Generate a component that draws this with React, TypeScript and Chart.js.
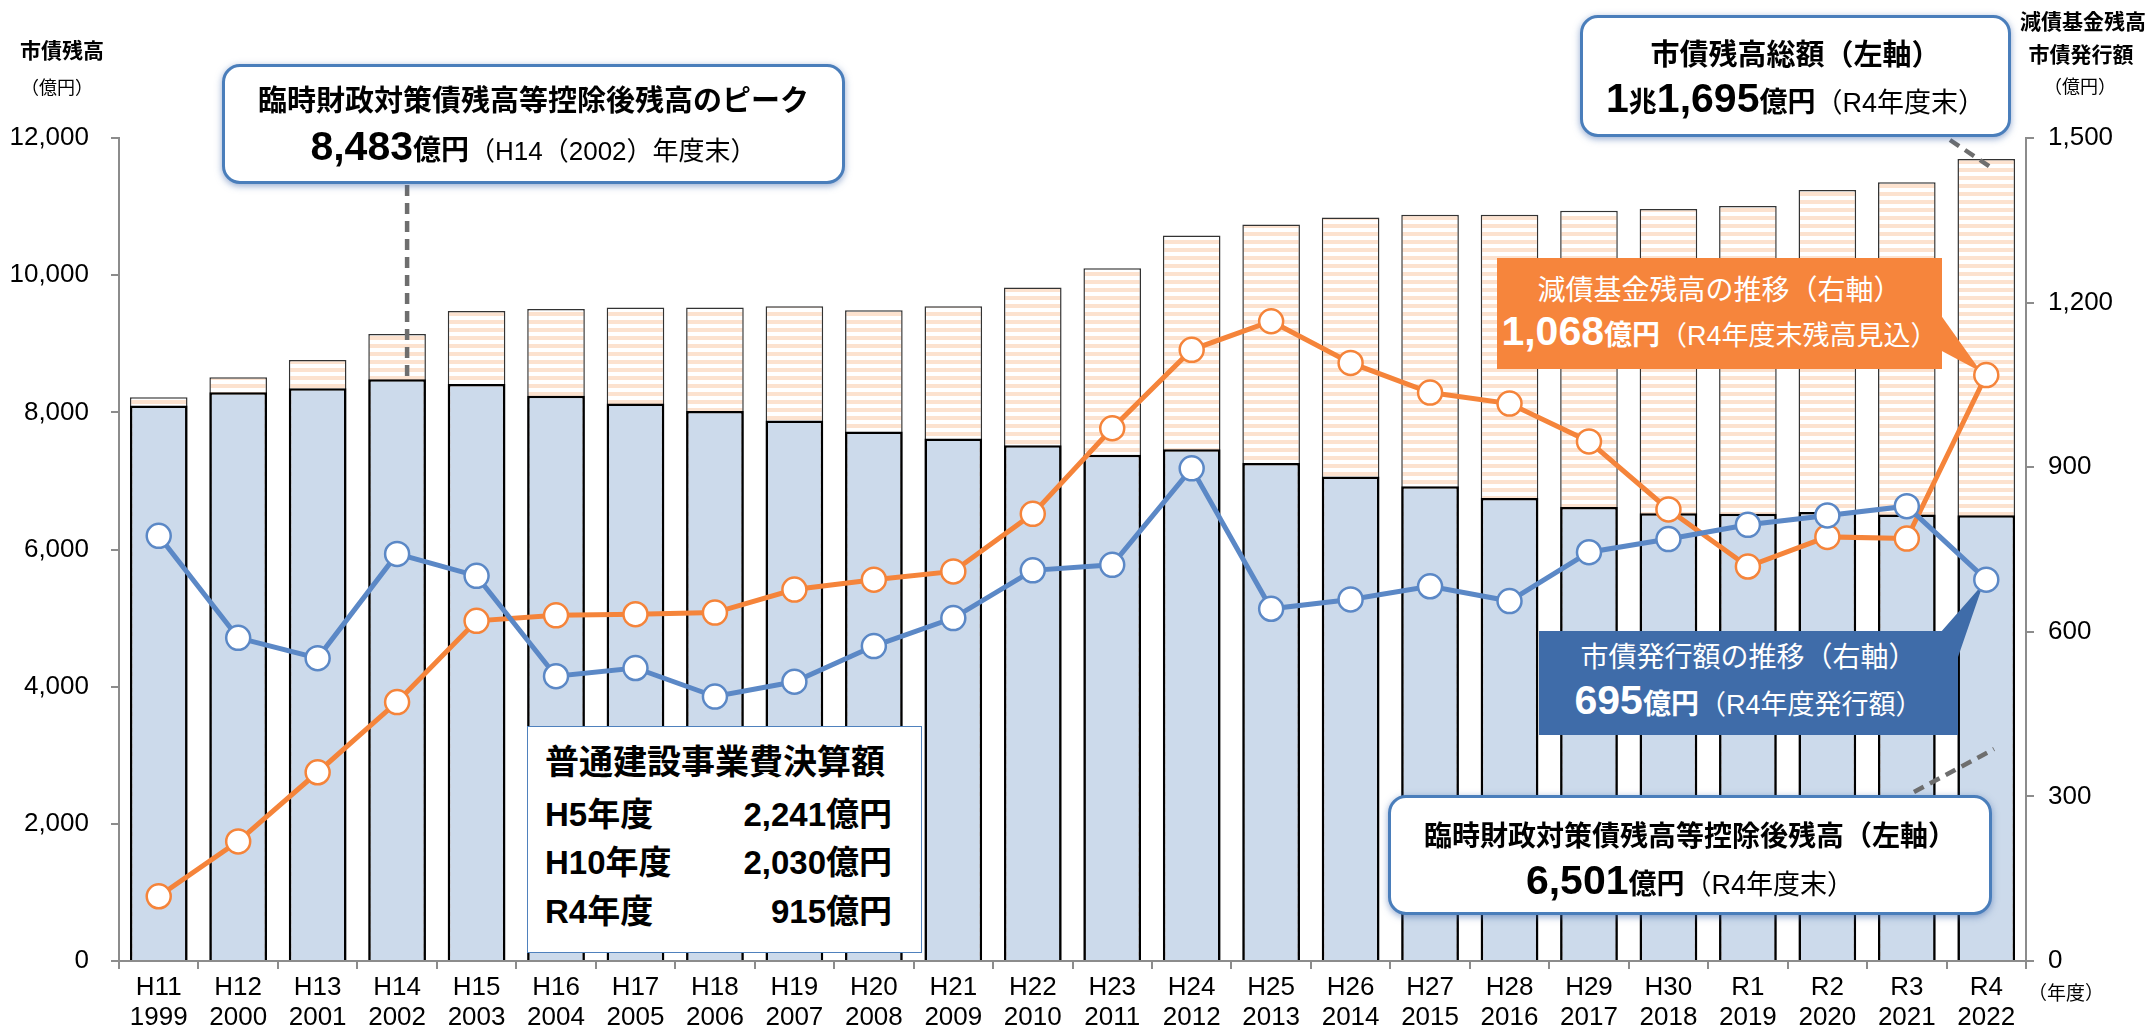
import React, { useEffect, useRef } from 'react';
import { Chart, registerables } from 'chart.js';
Chart.register(...registerables);

const categories: string[][] = [
  ['H11', '1999'], ['H12', '2000'], ['H13', '2001'], ['H14', '2002'], ['H15', '2003'], ['H16', '2004'],
  ['H17', '2005'], ['H18', '2006'], ['H19', '2007'], ['H20', '2008'], ['H21', '2009'], ['H22', '2010'],
  ['H23', '2011'], ['H24', '2012'], ['H25', '2013'], ['H26', '2014'], ['H27', '2015'], ['H28', '2016'],
  ['H29', '2017'], ['H30', '2018'], ['R1', '2019'], ['R2', '2020'], ['R3', '2021'], ['R4', '2022'],
];

// 市債残高総額（左軸）
const totalDebt = [
  8219, 8511, 8764, 9143, 9478, 9507, 9530, 9530, 9545, 9490, 9545, 9820,
  10100, 10580, 10740, 10840, 10880, 10880, 10940, 10965, 11010, 11242, 11353, 11695,
];
// 臨時財政対策債残高等控除後残高（左軸）
const adjustedDebt = [
  8098, 8292, 8350, 8483, 8414, 8243, 8128, 8020, 7880, 7720, 7620, 7520,
  7380, 7460, 7260, 7065, 6921, 6750, 6621, 6530, 6520, 6545, 6510, 6501,
];
// 減債基金残高（右軸）
const fundBalance = [
  118, 218, 344, 472, 620, 630, 632, 635, 677, 695, 710, 815,
  971, 1114, 1166, 1090, 1036, 1016, 947, 823, 719, 773, 770, 1068,
];
// 市債発行額（右軸）
const issuance = [
  775, 589, 552, 742, 702, 519, 534, 482, 509, 574, 625, 712,
  722, 898, 642, 659, 683, 656, 745, 769, 795, 812, 829, 695,
];

const leftAxisMax = 12000;
const leftAxisStep = 2000;
const rightAxisMax = 1500;
const rightAxisStep = 300;

const FONT = "'Liberation Sans', 'Noto Sans CJK JP', sans-serif";
const ORANGE_LINE = '#F5843A';
const BLUE_LINE = '#5B88C6';
const ORANGE_BOX = '#F6853C';
const BLUE_BOX = '#3F6CA9';
const AXIS_GRAY = '#8c8c8c';

const annotationPlugin = {
  id: 'annotations',
  afterDatasetDraw(chart: any, args: any) {
    if (args.index !== 1) return;
    const ctx = chart.ctx as CanvasRenderingContext2D;
    const xs = chart.scales.x;
    const yl = chart.scales.y;
    const yr = chart.scales.y1;
    const n = categories.length - 1;
    ctx.save();
    // orange callout tail
    const ox = xs.getPixelForValue(n);
    const oy = yr.getPixelForValue(fundBalance[n]);
    ctx.fillStyle = ORANGE_BOX;
    ctx.beginPath();
    ctx.moveTo(1940, 314);
    ctx.lineTo(ox - 5, oy - 3);
    ctx.lineTo(1940, 350);
    ctx.closePath();
    ctx.fill();
    // blue callout tail
    const bx = xs.getPixelForValue(n);
    const by = yr.getPixelForValue(issuance[n]);
    ctx.fillStyle = BLUE_BOX;
    ctx.beginPath();
    ctx.moveTo(1940, 633);
    ctx.lineTo(bx - 3, by + 4);
    ctx.lineTo(1957, 660);
    ctx.lineTo(1957, 633);
    ctx.closePath();
    ctx.fill();
    // dashed connectors
    ctx.setLineDash([11, 7]);
    ctx.lineWidth = 4.5;
    ctx.strokeStyle = '#6e6e6e';
    const x3 = xs.getPixelForValue(3) + 10;
    ctx.beginPath();
    ctx.moveTo(x3, 185);
    ctx.lineTo(x3, yl.getPixelForValue(adjustedDebt[3]) - 3);
    ctx.stroke();
    ctx.beginPath();
    ctx.moveTo(1950, 140);
    ctx.lineTo(xs.getPixelForValue(n) + 7, yl.getPixelForValue(totalDebt[n]) + 10);
    ctx.stroke();
    ctx.beginPath();
    ctx.moveTo(1914, 792);
    ctx.lineTo(1994, 749);
    ctx.stroke();
    ctx.restore();
  },
};

const B = ({ s, children }: any) => <span style={{ fontWeight: 700, fontSize: s }}>{children}</span>;
const R = ({ s, children }: any) => <span style={{ fontWeight: 400, fontSize: s }}>{children}</span>;

const Line = ({ left, width, cy, color = '#000', align = 'center', children }: any) => (
  <div
    style={{
      position: 'absolute', left, width, top: cy - 25, height: 50, lineHeight: '50px',
      textAlign: align, whiteSpace: 'nowrap', color, fontFamily: FONT,
    }}
  >
    {children}
  </div>
);

const RoundBox = ({ l, t, r, b }: any) => (
  <div
    style={{
      position: 'absolute', left: l, top: t, width: r - l, height: b - t, boxSizing: 'border-box',
      background: '#fff', border: '3px solid #4A7EBB', borderRadius: 18,
      boxShadow: '0 2px 7px rgba(60,100,170,0.55)',
    }}
  />
);

const FlatBox = ({ l, t, r, b, bg, border }: any) => (
  <div
    style={{
      position: 'absolute', left: l, top: t, width: r - l, height: b - t, boxSizing: 'border-box',
      background: bg, border: border || 'none',
    }}
  />
);

export default function App() {
  const ref = useRef<HTMLCanvasElement>(null);

  useEffect(() => {
    const canvas = ref.current!;
    const pc = document.createElement('canvas');
    pc.width = 8;
    pc.height = 8;
    const pctx = pc.getContext('2d')!;
    pctx.fillStyle = '#ffffff';
    pctx.fillRect(0, 0, 8, 8);
    pctx.fillStyle = '#FCE2CF';
    pctx.fillRect(0, 0, 8, 4);
    const pattern = canvas.getContext('2d')!.createPattern(pc, 'repeat');

    const chart = new Chart(canvas, {
      type: 'bar',
      data: {
        labels: categories,
        datasets: [
          {
            type: 'bar', label: '市債残高総額', data: totalDebt, backgroundColor: pattern as any,
            borderColor: '#333', borderWidth: 1.5, yAxisID: 'y', grouped: false, order: 4,
            barPercentage: 0.725, categoryPercentage: 1,
          },
          {
            type: 'bar', label: '臨時財政対策債残高等控除後残高', data: adjustedDebt, backgroundColor: '#CCDAEB',
            borderColor: '#000', borderWidth: 2.5, yAxisID: 'y', grouped: false, order: 3,
            barPercentage: 0.725, categoryPercentage: 1,
          },
          {
            type: 'line', label: '減債基金残高', data: fundBalance, borderColor: ORANGE_LINE, borderWidth: 5,
            pointRadius: 12, pointBackgroundColor: '#fff', pointBorderColor: ORANGE_LINE, pointBorderWidth: 2.5,
            yAxisID: 'y1', order: 2, tension: 0,
          },
          {
            type: 'line', label: '市債発行額', data: issuance, borderColor: BLUE_LINE, borderWidth: 5,
            pointRadius: 12, pointBackgroundColor: '#fff', pointBorderColor: BLUE_LINE, pointBorderWidth: 2.5,
            yAxisID: 'y1', order: 1, tension: 0,
          },
        ] as any,
      },
      options: {
        responsive: false,
        animation: false,
        layout: { padding: { top: 138, left: 0, right: 0, bottom: 0 } },
        plugins: { legend: { display: false }, tooltip: { enabled: false } },
        scales: {
          x: {
            offset: true,
            grid: { drawOnChartArea: false, drawTicks: true, tickLength: 8, color: AXIS_GRAY, lineWidth: 2, offset: true },
            border: { display: true, color: AXIS_GRAY, width: 2 },
            ticks: {
              color: '#000', font: { size: 26, family: FONT, lineHeight: 1.15 }, padding: 4,
              maxRotation: 0, minRotation: 0, autoSkip: false,
            },
            afterFit: (s: any) => { s.height = 74; },
          },
          y: {
            position: 'left', min: 0, max: leftAxisMax,
            ticks: {
              stepSize: leftAxisStep, color: '#000', font: { size: 26, family: FONT }, padding: 22,
              callback: (v: any) => Number(v).toLocaleString('en-US'),
            },
            grid: { drawOnChartArea: false, drawTicks: true, tickLength: 8, color: AXIS_GRAY, lineWidth: 2 },
            border: { display: true, color: AXIS_GRAY, width: 2 },
            afterFit: (s: any) => { s.width = 119; },
          },
          y1: {
            position: 'right', min: 0, max: rightAxisMax,
            ticks: {
              stepSize: rightAxisStep, color: '#000', font: { size: 26, family: FONT }, padding: 14,
              callback: (v: any) => Number(v).toLocaleString('en-US'),
            },
            grid: { drawOnChartArea: false, drawTicks: true, tickLength: 8, color: AXIS_GRAY, lineWidth: 2 },
            border: { display: true, color: AXIS_GRAY, width: 2 },
            afterFit: (s: any) => { s.width = 124; },
          },
        },
      } as any,
      plugins: [annotationPlugin],
    });
    return () => chart.destroy();
  }, []);

  return (
    <div style={{ position: 'absolute', left: 0, top: 0, width: 2150, height: 1035, background: '#fff', overflow: 'hidden', fontFamily: FONT }}>
      <canvas ref={ref} width={2150} height={1035} style={{ position: 'absolute', left: 0, top: 0, width: 2150, height: 1035 }} />

      {/* axis titles */}
      <Line left={10} width={104} cy={51}><B s={21}>市債残高</B></Line>
      <Line left={10} width={94} cy={88}><R s={18}>（億円）</R></Line>
      <Line left={2020} width={130} cy={22} align="left"><B s={21}>減債基金残高</B></Line>
      <Line left={2026} width={110} cy={55}><B s={21}>市債発行額</B></Line>
      <Line left={2030} width={100} cy={87}><R s={18}>（億円）</R></Line>
      <Line left={2026} width={80} cy={994}><R s={19}>（年度）</R></Line>

      {/* peak box */}
      <RoundBox l={222} t={64} r={845} b={184} />
      <Line left={222} width={623} cy={101}><B s={29}>臨時財政対策債残高等控除後残高のピーク</B></Line>
      <Line left={222} width={623} cy={146}><B s={41}>8,483</B><B s={28}>億円</B><R s={26}>（H14（2002）年度末）</R></Line>

      {/* total box */}
      <RoundBox l={1580} t={15} r={2011} b={137} />
      <Line left={1580} width={431} cy={55}><B s={29}>市債残高総額（左軸）</B></Line>
      <Line left={1580} width={431} cy={98}><B s={41}>1</B><B s={28}>兆</B><B s={41}>1,695</B><B s={28}>億円</B><R s={27}>（R4年度末）</R></Line>

      {/* fund box */}
      <FlatBox l={1497} t={258} r={1942} b={369} bg={ORANGE_BOX} />
      <Line left={1497} width={445} cy={291} color="#fff"><R s={28}>減債基金残高の推移（右軸）</R></Line>
      <Line left={1497} width={445} cy={331} color="#fff"><B s={41}>1,068</B><B s={28}>億円</B><R s={27}>（R4年度末残高見込）</R></Line>

      {/* issuance box */}
      <FlatBox l={1539} t={631} r={1958} b={735} bg={BLUE_BOX} />
      <Line left={1539} width={419} cy={658} color="#fff"><R s={28}>市債発行額の推移（右軸）</R></Line>
      <Line left={1539} width={419} cy={700} color="#fff"><B s={41}>695</B><B s={28}>億円</B><R s={27}>（R4年度発行額）</R></Line>

      {/* adjusted box */}
      <RoundBox l={1388} t={795} r={1992} b={915} />
      <Line left={1388} width={604} cy={837}><B s={28}>臨時財政対策債残高等控除後残高（左軸）</B></Line>
      <Line left={1388} width={604} cy={880}><B s={41}>6,501</B><B s={28}>億円</B><R s={27}>（R4年度末）</R></Line>

      {/* table box */}
      <FlatBox l={527} t={726} r={922} b={953} bg="#fff" border="1.5px solid #4F81BD" />
      <Line left={545} width={360} cy={762} align="left"><B s={34}>普通建設事業費決算額</B></Line>
      <Line left={545} width={200} cy={815} align="left"><B s={33}>H5年度</B></Line>
      <Line left={692} width={200} cy={815} align="right"><B s={33}>2,241億円</B></Line>
      <Line left={545} width={200} cy={863} align="left"><B s={33}>H10年度</B></Line>
      <Line left={692} width={200} cy={863} align="right"><B s={33}>2,030億円</B></Line>
      <Line left={545} width={200} cy={912} align="left"><B s={33}>R4年度</B></Line>
      <Line left={692} width={200} cy={912} align="right"><B s={33}>915億円</B></Line>
    </div>
  );
}
